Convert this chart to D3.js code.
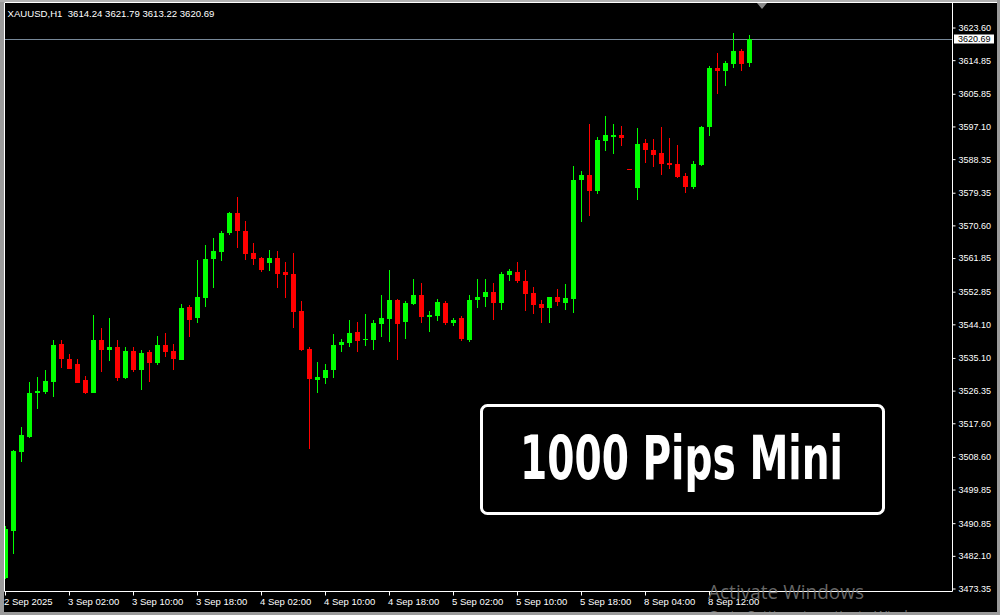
<!DOCTYPE html>
<html><head><meta charset="utf-8">
<script src="https://cdn.jsdelivr.net/npm/d3@7"></script>
<style>html,body{margin:0;padding:0;background:#000;overflow:hidden}svg{display:block}</style>
</head><body>
<svg id="chart" width="1000" height="615"></svg>
<script>
const symbolTitle = "XAUUSD,H1  3614.24 3621.79 3613.22 3620.69";
const opens = [
3476.39,3488.97,3510.13,3514.07,3525.85,3526.12,3528.80,3538.97,3534.95,3533.62,
3529.33,3525.85,3540.04,3537.37,3538.17,3529.87,3537.10,3532.01,3536.83,3533.88,
3538.70,3537.10,3534.69,3548.88,3545.94,3551.29,3561.74,3563.61,3568.70,3574.06,
3569.23,3563.34,3562.00,3560.66,3562.00,3558.25,3557.72,3547.81,3537.63,3529.33,
3529.87,3532.01,3538.70,3539.24,3542.19,3540.04,3540.04,3544.33,3545.67,3550.76,
3544.86,3549.68,3552.09,3546.20,3546.47,3549.95,3544.60,3545.94,3540.04,3550.76,
3551.56,3552.90,3549.95,3557.45,3558.25,3555.84,3552.63,3549.68,3548.61,3551.56,
3549.95,3551.02,3582.89,3584.23,3579.95,3593.34,3594.41,3594.94,3585.84,3580.75,
3592.80,3590.93,3590.12,3587.45,3587.18,3583.96,3581.02,3586.91,3597.09,3612.89,
3612.08,3613.96,3617.44,3614.24];
const highs = [
3490.23,3510.58,3516.74,3528.80,3530.13,3532.01,3540.04,3540.04,3536.29,3534.95,
3530.40,3546.74,3543.26,3545.94,3540.04,3538.17,3538.17,3537.37,3537.37,3541.11,
3541.92,3538.97,3549.68,3549.42,3561.47,3565.49,3567.36,3569.23,3574.32,3578.34,
3571.91,3566.02,3562.27,3564.15,3563.88,3560.93,3563.34,3550.49,3538.17,3534.15,
3533.62,3541.65,3540.31,3545.40,3544.86,3547.01,3545.40,3552.09,3558.79,3551.02,
3550.49,3556.38,3555.31,3547.81,3551.02,3550.49,3545.94,3546.47,3552.09,3556.38,
3556.38,3555.31,3558.25,3559.06,3560.93,3558.79,3554.24,3550.76,3551.56,3553.70,
3555.04,3586.64,3585.30,3597.89,3594.41,3600.03,3597.89,3597.35,3585.84,3596.82,
3593.87,3593.87,3597.09,3594.14,3592.27,3584.77,3587.98,3597.35,3613.42,3616.90,
3614.76,3622.26,3617.98,3621.79];
const lows = [
3476.04,3482.81,3507.37,3513.90,3521.56,3525.58,3524.78,3532.54,3532.15,3528.40,
3525.58,3525.72,3531.47,3534.42,3529.06,3529.60,3531.47,3526.65,3528.80,3533.35,
3535.49,3532.01,3534.55,3540.85,3544.60,3548.88,3553.97,3561.20,3568.16,3564.68,
3561.47,3560.13,3558.25,3558.52,3553.97,3551.29,3543.26,3537.10,3510.85,3525.85,
3528.26,3529.87,3536.83,3538.17,3536.83,3538.44,3537.37,3540.85,3539.51,3534.69,
3540.31,3549.42,3544.60,3542.19,3545.13,3544.06,3543.79,3539.78,3539.51,3548.61,
3548.88,3545.40,3548.08,3555.84,3555.31,3547.81,3547.01,3544.60,3544.60,3549.15,
3548.08,3547.27,3571.64,3573.25,3579.14,3590.66,3589.86,3592.00,3585.80,3577.54,
3587.45,3586.37,3584.23,3585.84,3583.43,3579.41,3580.48,3586.64,3594.68,3605.92,
3608.07,3612.89,3612.08,3613.22];
const closes = [
3489.43,3510.32,3514.60,3525.85,3526.47,3529.06,3538.70,3534.95,3532.28,3528.53,
3525.85,3540.04,3537.37,3538.17,3529.87,3537.10,3532.01,3536.56,3533.88,3538.70,
3536.83,3534.95,3548.61,3545.40,3551.56,3561.74,3563.88,3568.70,3574.06,3569.23,
3563.07,3561.74,3558.79,3562.00,3557.72,3557.45,3547.54,3537.37,3529.60,3530.13,
3532.01,3538.70,3539.51,3541.92,3539.78,3540.31,3544.60,3545.94,3550.76,3544.33,
3549.95,3552.09,3546.20,3546.74,3550.22,3544.60,3545.40,3540.31,3550.76,3551.56,
3552.90,3549.95,3557.72,3558.52,3555.84,3552.36,3549.42,3548.61,3551.56,3550.22,
3551.29,3582.89,3584.23,3579.95,3593.61,3594.94,3594.94,3594.14,3585.82,3592.53,
3590.93,3589.59,3587.18,3586.91,3583.70,3581.02,3587.18,3597.09,3612.89,3612.08,
3614.23,3617.44,3613.96,3620.69];
const yTickValues = [3623.60,3614.85,3605.85,3597.10,3588.35,3579.35,3570.60,3561.85,3552.85,
  3544.10,3535.10,3526.35,3517.60,3508.60,3499.85,3490.85,3482.10,3473.35];
const xTickIndex = [0,8,16,24,32,40,48,56,64,72,80,88];
const xTickLabels = ["2 Sep 2025","3 Sep 02:00","3 Sep 10:00","3 Sep 18:00","4 Sep 02:00","4 Sep 10:00",
  "4 Sep 18:00","5 Sep 02:00","5 Sep 10:00","5 Sep 18:00","8 Sep 04:00","8 Sep 12:00"];
const lastPrice = 3620.69;
const bannerText = "1000 Pips Mini";

const svg = d3.select("#chart");
const FONT = "'Liberation Sans', Arial, sans-serif";
const plotL = 4.5, plotR = 952.5, plotT = 2.5, plotB = 591.5;

svg.append("rect").attr("width",1000).attr("height",615).attr("fill","#000");

const y = d3.scaleLinear().domain([3473.35, 3623.60]).range([589, 28]);
const x = d3.scaleLinear().domain([0, opens.length - 1]).range([5.5, 5.5 + 8*(opens.length - 1)]);

svg.append("defs").append("clipPath").attr("id","plotclip")
  .append("rect").attr("x",5).attr("y",3).attr("width",plotR-5).attr("height",plotB-3);

const candles = opens.map((o,i)=>({i, o, h:highs[i], l:lows[i], c:closes[i]}));
const g = svg.append("g").attr("clip-path","url(#plotclip)");

// price line
g.append("line").attr("x1",plotL).attr("x2",plotR).attr("y1",Math.round(y(lastPrice))+0.5).attr("y2",Math.round(y(lastPrice))+0.5)
  .attr("stroke","#778899").attr("stroke-width",1);

const cg = g.selectAll("g.candle").data(candles).enter().append("g").attr("class","candle");
const col = d => d.c >= d.o ? "#00ff00" : "#ff0000";
cg.append("rect")
  .attr("x", d => x(d.i) - 0.5).attr("width", 1)
  .attr("y", d => Math.round(y(d.h)))
  .attr("height", d => Math.max(1, Math.round(y(d.l)) - Math.round(y(d.h))))
  .attr("fill", col);
cg.append("rect")
  .attr("x", d => x(d.i) - 2.5).attr("width", 5)
  .attr("y", d => Math.round(y(Math.max(d.o,d.c))))
  .attr("height", d => Math.max(1, Math.round(y(Math.min(d.o,d.c))) - Math.round(y(Math.max(d.o,d.c)))))
  .attr("fill", col);

// frame
svg.append("line").attr("x1",plotR).attr("x2",plotR).attr("y1",plotT).attr("y2",plotB).attr("stroke","#fff");
svg.append("line").attr("x1",plotL).attr("x2",plotR).attr("y1",plotB).attr("y2",plotB).attr("stroke","#fff");
svg.append("line").attr("x1",plotL).attr("x2",plotL).attr("y1",plotT).attr("y2",plotB).attr("stroke","#fff");
svg.append("line").attr("x1",plotL).attr("x2",997).attr("y1",plotT).attr("y2",plotT).attr("stroke","#fff");

// right axis
const ya = svg.append("g").attr("transform",`translate(${plotR},0)`)
  .call(d3.axisRight(y).tickValues(yTickValues).tickSize(3).tickPadding(3).tickFormat(d3.format(".2f")).offset(0));
ya.select(".domain").remove();
ya.selectAll("line").attr("stroke","#fff");
ya.selectAll("text").attr("fill","#fff").attr("font-family",FONT).attr("font-size","9px");

// last price label
const ly = y(lastPrice);
svg.append("rect").attr("x",954).attr("y",Math.round(ly)-4.5).attr("width",40).attr("height",9).attr("fill","#fff");
svg.append("text").attr("x",958).attr("y",ly).attr("dy","0.34em").attr("font-family",FONT).attr("font-size","9px")
  .attr("fill","#000").text(d3.format(".2f")(lastPrice));

// bottom axis
const xa = svg.append("g").attr("transform",`translate(0,${plotB})`)
  .call(d3.axisBottom(x).tickValues(xTickIndex).tickSize(4).tickPadding(3).tickFormat((d,i)=>xTickLabels[i]).offset(0));
xa.select(".domain").remove();
xa.selectAll("line").attr("stroke","#fff");
xa.selectAll("text").attr("fill","#fff").attr("font-family",FONT).attr("font-size","9.5px")
  .attr("text-anchor","start").attr("x",-1.5);

// title
svg.append("text").attr("x",7.5).attr("y",16.5).attr("font-family",FONT).attr("font-size","9.6px")
  .attr("fill","#fff").attr("xml:space","preserve").style("white-space","pre").text(symbolTitle);

// shift marker
svg.append("path").attr("d","M757,3 L767,3 L762,9 Z").attr("fill","#8a8a8a");

// banner
svg.append("rect").attr("x",481.5).attr("y",405.5).attr("width",402).attr("height",108).attr("rx",6)
  .attr("fill","#000").attr("stroke","#fff").attr("stroke-width",3);
svg.append("text").attr("x",520).attr("y",478.5).attr("font-family","'Liberation Sans Narrow','DejaVu Sans Condensed',sans-serif")
  .attr("font-weight","bold").attr("font-size","60px").attr("fill","#fff")
  .attr("textLength",323).attr("lengthAdjust","spacingAndGlyphs").text(bannerText);

// watermark
svg.append("text").attr("x",708).attr("y",599).attr("font-family","'Open Sans',sans-serif").attr("font-size","20px")
  .attr("fill","#8a8a8a").attr("fill-opacity",0.75).attr("textLength",156).attr("lengthAdjust","spacingAndGlyphs").text("Activate Windows");
svg.append("text").attr("x",708).attr("y",621).attr("font-family","'Open Sans',sans-serif").attr("font-size","14px")
  .attr("fill","#8a8a8a").attr("fill-opacity",0.75).text("Go to Settings to activate Windows.");

// window border
svg.append("rect").attr("x",0).attr("y",0).attr("width",4).attr("height",615).attr("fill","#9a9a9a");
svg.append("rect").attr("x",0).attr("y",0).attr("width",1000).attr("height",2).attr("fill","#b0b0b0");
svg.append("rect").attr("x",997).attr("y",0).attr("width",3).attr("height",615).attr("fill","#9a9a9a");
svg.append("rect").attr("x",0).attr("y",612).attr("width",1000).attr("height",3).attr("fill","#9a9a9a");
</script>
</body></html>
